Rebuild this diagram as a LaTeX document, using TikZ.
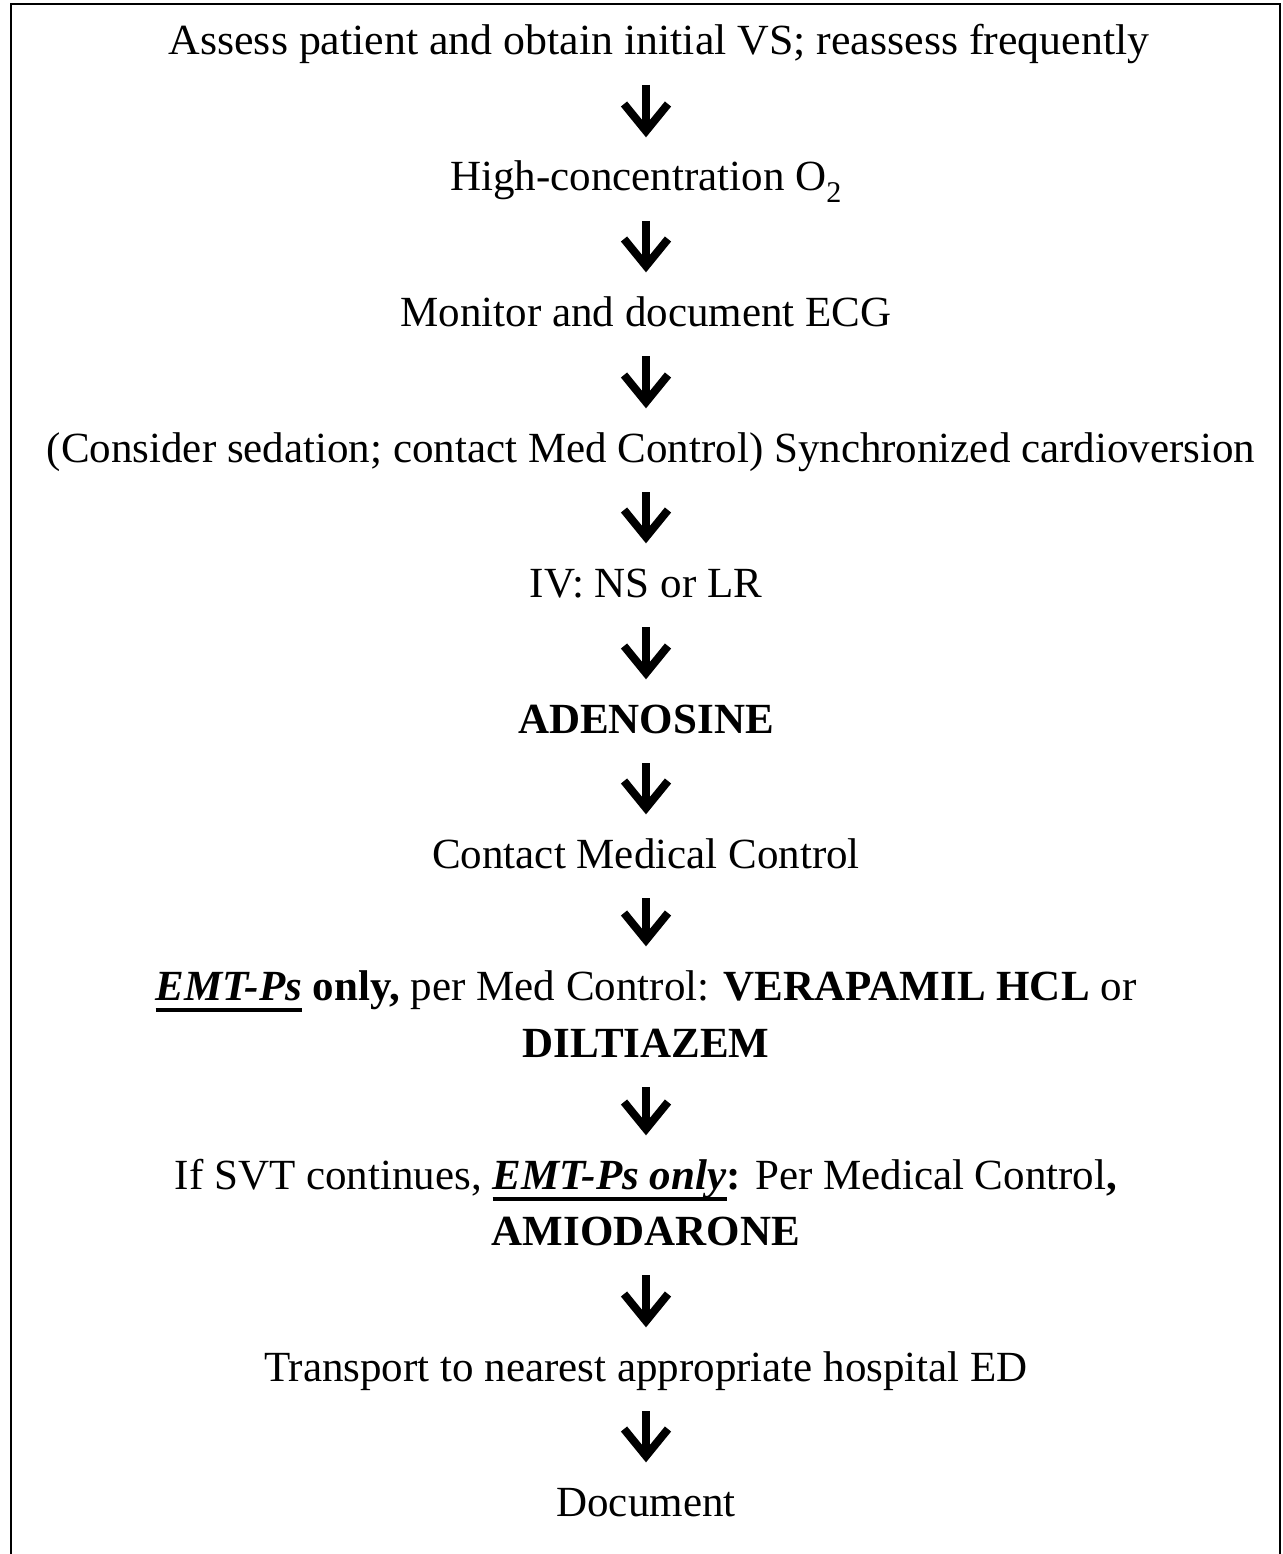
\documentclass[tikz,border=0pt]{standalone}
\usepackage{fontspec}
\setmainfont{Liberation Serif}
\usetikzlibrary{calc}

% heavy underline used for the "EMT-Ps" qualifiers
\newcommand\heavyul[1]{\setbox0=\hbox{#1}\rlap{\rule[-12pt]{\wd0}{4.5pt}}\box0\relax}

\begin{document}
\begin{tikzpicture}[x=1pt,y=-1pt,
  steptext/.style={anchor=base,inner sep=0pt,font=\fontsize{43}{48}\selectfont},
  flowarrow/.style={line width=8pt,line join=miter,line cap=butt}]
\useasboundingbox (0,0) rectangle (1282,1554);

% open frame (no bottom edge)
\draw[line width=2.5pt] (11,1556) -- (11,4) -- (1280,4) -- (1280,1556);

% vertical axis of the flow
\def\cx{646}
\coordinate (axis) at (\cx,0);

\node[steptext] (s1) at (659,55) {\scalebox{1.02}[1]{Assess patient and obtain initial VS; reassess frequently}};
\node[steptext] (s2) at (\cx,191) {High-concentration O\textsubscript{2}};
\node[steptext] (s3) at (\cx,326) {Monitor and document ECG};
\node[steptext] (s4) at (651,462) {(Consider sedation; contact Med Control) Synchronized cardioversion};
\node[steptext] (s5) at (\cx,597) {IV: NS or LR};
\node[steptext] (s6) at (\cx,733) {\textbf{ADENOSINE}};
\node[steptext] (s7) at (\cx,868) {Contact Medical Control};
\node[steptext] (s8a) at (\cx,1000) {\heavyul{\textbf{\textit{EMT-Ps}}} \textbf{only,} per Med Control: \textbf{VERAPAMIL HCL} or};
\node[steptext] (s8b) at (\cx,1057) {\textbf{DILTIAZEM}};
\node[steptext] (s9a) at (\cx,1189) {If SVT continues, \heavyul{\textbf{\textit{EMT-Ps only}}}\textbf{:} Per Medical Control\textbf{,}};
\node[steptext] (s9b) at (\cx,1245) {\textbf{AMIODARONE}};
\node[steptext] (s10) at (\cx,1381) {Transport to nearest appropriate hospital ED};
\node[steptext] (s11) at (\cx,1516) {Document};

% heavy down arrows between consecutive steps, on the flow axis
\newcommand\flowstep[2]{%
  \draw[flowarrow] ($(axis |- #1.base)+(0,30)$) -- ($(axis |- #2.base)+(0,-60)$);
  \draw[flowarrow] ($(axis |- #2.base)+(-22,-87)$) -- ($(axis |- #2.base)+(0,-60)$) -- ($(axis |- #2.base)+(22,-87)$);}
\flowstep{s1}{s2}
\flowstep{s2}{s3}
\flowstep{s3}{s4}
\flowstep{s4}{s5}
\flowstep{s5}{s6}
\flowstep{s6}{s7}
\flowstep{s7}{s8a}
\flowstep{s8b}{s9a}
\flowstep{s9b}{s10}
\flowstep{s10}{s11}
\end{tikzpicture}
\end{document}
